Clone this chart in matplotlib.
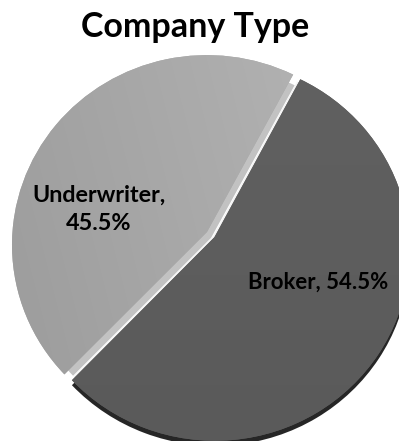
import matplotlib
matplotlib.use("Agg")
import numpy as np
import matplotlib.pyplot as plt
from matplotlib.colors import LinearSegmentedColormap
from matplotlib.transforms import Transform, Affine2D

# Company type split
categories = ["Underwriter", "Broker"]
shares = [45.5, 54.5]
title = "Company Type"

top_colors = ["#aaaaaa", "#5f5f5f"]


class Perspective(Transform):
    """Projects the flat pie plane onto a slightly tilted view:
    the far (upper) side shrinks and the near side grows."""
    input_dims = output_dims = 2

    def __init__(self, xc, yc, sx, sy, k):
        super().__init__()
        self.xc, self.yc, self.sx, self.sy, self.k = xc, yc, sx, sy, k

    def transform_non_affine(self, values):
        pts = np.asarray(values, dtype=float).reshape(-1, 2)
        d = 1.0 / (1.0 + self.k * pts[:, 1])
        return np.column_stack([self.xc + self.sx * pts[:, 0] * d,
                                self.yc + self.sy * pts[:, 1] * d])


W, H = 399, 441
fig = plt.figure(figsize=(W / 100, H / 100), dpi=100)
ax = fig.add_axes([0, 0, 1, 1])

radius = 193
view = Perspective(207, H - 232, 1.008, 0.979, 0.068 / radius)
# pie() offsets exploded wedges in data units, so scale by the radius
explode = [0.0, 0.047 * radius]
start = 62
common = dict(explode=explode, startangle=start, counterclock=True,
              wedgeprops=dict(linewidth=0), frame=True, center=(0, 0))


def layer(colors, shift=(0, 0), r=radius):
    ws, _ = ax.pie(shares, radius=r, colors=colors, **common)
    tr = view + Affine2D().translate(*shift) + ax.transData
    for w in ws:
        w.set_transform(tr)
    return ws


# dark rim under the broker slice
layer(["none", "#262626"], shift=(0, -5))
# light cut faces of the underwriter slice
layer(["#c2c2c2", "none"], shift=(4, -6), r=radius - 6)
# white bevel along the broker edge
layer(["none", "#f4f4f4"], shift=(-1.5, 0.8), r=radius - 4)
# top faces
wedges = layer(top_colors)

# soft shading on the top faces
yy, xx = np.mgrid[0:H, 0:W]
shade_u = LinearSegmentedColormap.from_list("u", ["#9c9c9c", "#b1b1b1"])
g_u = np.clip(((xx - 20) / 260.0) * 0.7 + (yy / H) * 0.3, 0, 1)
im_u = ax.imshow(g_u, cmap=shade_u, extent=(0, W, 0, H), origin="lower",
                 vmin=0, vmax=1, zorder=wedges[0].get_zorder() + 0.1,
                 interpolation="bilinear")
im_u.set_clip_path(wedges[0])
shade_b = LinearSegmentedColormap.from_list("b", ["#5a5a5a", "#626262"])
g_b = np.clip(yy / H, 0, 1)
im_b = ax.imshow(g_b, cmap=shade_b, extent=(0, W, 0, H), origin="lower",
                 vmin=0, vmax=1, zorder=wedges[1].get_zorder() + 0.1,
                 interpolation="bilinear")
im_b.set_clip_path(wedges[1])

ax.set_xlim(0, W)
ax.set_ylim(0, H)
ax.set_aspect("auto")
ax.axis("off")

font = dict(family="Lato", weight="bold", color="black", zorder=10)
ax.text(99, H - 202, f"{categories[0]},", ha="center", va="baseline",
        fontsize=16.8, **font)
ax.text(99, H - 230, f"{shares[0]}%", ha="center", va="baseline",
        fontsize=16.8, **font)
ax.text(318.5, H - 289, f"{categories[1]}, {shares[1]}%", ha="center",
        va="baseline", fontsize=15.9, **font)
ax.text(195.5, H - 37, title, ha="center", va="baseline", fontsize=24.5, **font)

fig.savefig("out.png", dpi=100)
